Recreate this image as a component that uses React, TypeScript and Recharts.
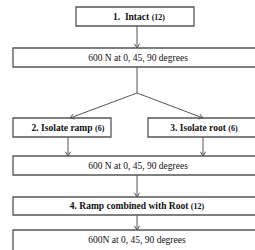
import { ComposedChart, XAxis, YAxis, ReferenceArea, ReferenceLine } from 'recharts'

const W = 255
const H = 250

// boxes: [x1, x2, y1, y2]
const boxBounds = [
  [76, 194, 7, 26],
  [13, 262, 48, 67],
  [13, 111, 118, 137],
  [148, 260, 118, 137],
  [13, 262, 156, 175],
  [13, 262, 197, 215],
  [13, 262, 230, 258],
]
const boxTitles = [
  '1.\u00a0\u00a0Intact',
  '600 N at 0, 45, 90 degrees',
  '2. Isolate ramp',
  '3. Isolate root',
  '600 N at 0, 45, 90 degrees',
  '4. Ramp combined with Root',
  '600N at 0, 45, 90 degrees',
]
const boxCounts = ['(12)', '', '(6)', '(6)', '', '(12)', '']
const boxBold = [true, false, true, true, false, true, false]
const boxLabelX = [139, 138, 68, 204, 138, 137, 137]

// connectors: [x1, y1, x2, y2, arrow]
const connectors = [
  [137, 26, 137, 48, 1],
  [137, 67, 137, 93, 0],
  [137, 93, 70, 118, 1],
  [137, 93, 203, 118, 1],
  [68, 137, 68, 156, 1],
  [203, 137, 203, 156, 1],
  [137, 175, 137, 197, 1],
  [137, 215, 137, 230, 1],
]

const LINE = '#555'
const FONT = '"Liberation Serif", "Times New Roman", serif'

function arrowHead(x1: number, y1: number, x2: number, y2: number) {
  const len = 5
  const spread = 0.55
  const a = Math.atan2(y2 - y1, x2 - x1)
  return [a - spread, a + spread].map(t => [
    { x: x2 - len * Math.cos(t), y: y2 - len * Math.sin(t) },
    { x: x2, y: y2 },
  ])
}

function BoxLabel({ viewBox, title, count, bold, cx }: any) {
  // boxes running off the page keep their text near the top edge
  const cy = viewBox.y + Math.min(viewBox.height, 19) / 2
  return (
    <text
      x={cx}
      y={cy}
      textAnchor="middle"
      dominantBaseline="central"
      fontFamily={FONT}
      fontSize={9.5}
      fontWeight={bold ? 700 : 400}
      fill="#111"
    >
      {title}
      {count && <tspan fontSize={8} dx={2.5}>{count}</tspan>}
    </text>
  )
}

export default function App() {
  const segs: { x: number; y: number }[][] = []
  connectors.forEach(([x1, y1, x2, y2, arrow]) => {
    segs.push([{ x: x1, y: y1 }, { x: x2, y: y2 }])
    if (arrow) segs.push(...arrowHead(x1, y1, x2, y2))
  })

  return (
    <div style={{ position: 'absolute', left: 0, top: 0, background: '#fff' }}>
      <ComposedChart width={W} height={H} data={[{ x: 0, y: 0 }]} margin={{ top: 0, right: 0, bottom: 0, left: 0 }}>
        <XAxis type="number" dataKey="x" domain={[0, W]} hide allowDataOverflow />
        <YAxis type="number" dataKey="y" domain={[0, H]} reversed hide allowDataOverflow />
        {boxBounds.map(([x1, x2, y1, y2], i) => (
          <ReferenceArea
            key={'b' + i}
            x1={x1}
            x2={x2}
            y1={y1}
            y2={y2}
            ifOverflow="visible"
            fill="#fff"
            fillOpacity={1}
            stroke={LINE}
            strokeWidth={1.3}
            label={<BoxLabel title={boxTitles[i]} count={boxCounts[i]} bold={boxBold[i]} cx={boxLabelX[i]} />}
          />
        ))}
        {segs.map((s, i) => (
          <ReferenceLine key={'l' + i} segment={s} stroke={LINE} strokeWidth={1} ifOverflow="visible" />
        ))}
      </ComposedChart>
    </div>
  )
}
